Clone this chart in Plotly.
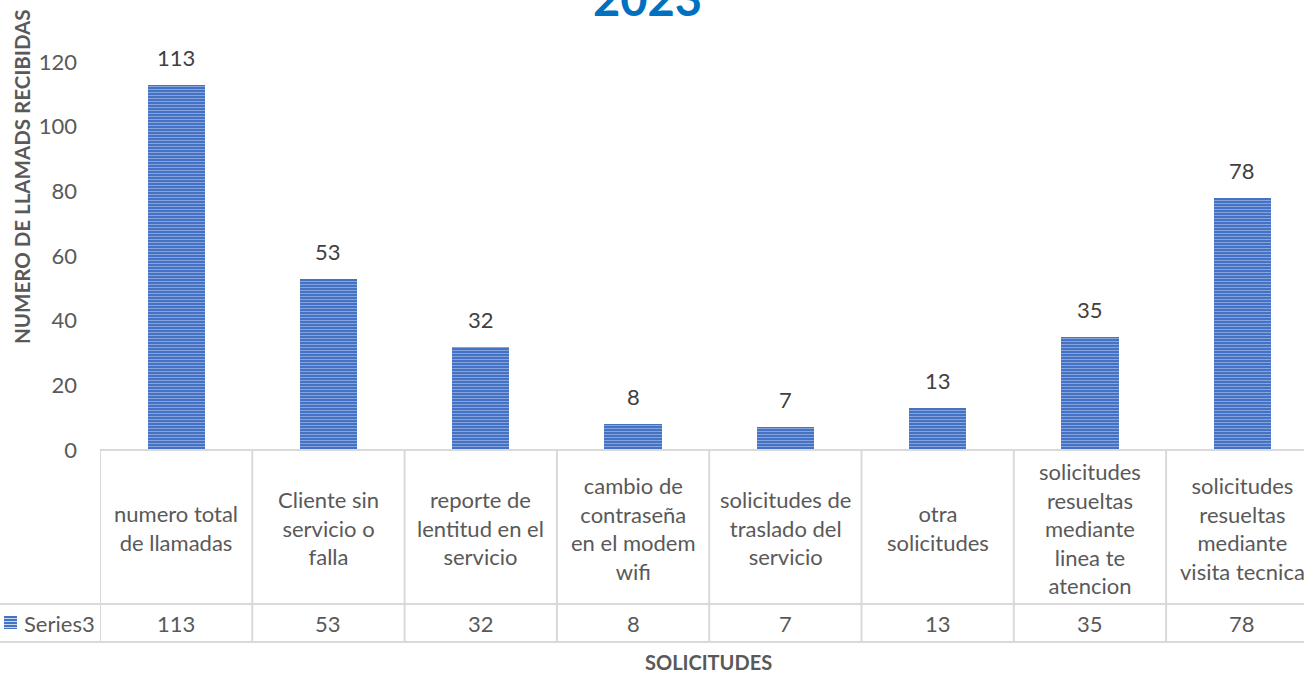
import plotly.graph_objects as go

categories = [
    "numero total<br>de llamadas",
    "Cliente sin<br>servicio o<br>falla",
    "reporte de<br>lentitud en el<br>servicio",
    "cambio de<br>contraseña<br>en el modem<br>wifi",
    "solicitudes de<br>traslado del<br>servicio",
    "otra<br>solicitudes",
    "solicitudes<br>resueltas<br>mediante<br>linea te<br>atencion",
    "solicitudes<br>resueltas<br>mediante<br>visita tecnica",
]
values = [113, 53, 32, 8, 7, 13, 35, 78]
series_name = "Series3"
title_text = "2023"
y_title = "NUMERO DE LLAMADS RECIBIDAS"
x_title = "SOLICITUDES"
y_ticks = [0, 20, 40, 60, 80, 100, 120]

W, H = 1304, 674
PLOT_LEFT, PLOT_TOP, PLOT_BOTTOM = 100, 40, 450
L, T, B = PLOT_LEFT, PLOT_TOP, H - PLOT_BOTTOM
plot_h = PLOT_BOTTOM - PLOT_TOP
plot_w = W - PLOT_LEFT
cat_px = 152.3
px_per_unit = (450 - 62) / 120.0

FONT = "Lato"
GRAY = "#595959"
LINE = "#D9D9D9"
BLUE = "#4472C4"
LIGHT = "#C9D7F0"

def py(p):
    return (PLOT_BOTTOM - p) / plot_h

def px(p):
    return (p - PLOT_LEFT) / plot_w

n = len(values)
xs = list(range(n))

fig = go.Figure()
fig.add_trace(go.Bar(
    x=xs, y=values, name=series_name, width=0.375,
    marker=dict(color=BLUE, line=dict(width=0),
                pattern=dict(shape="-", fgcolor=LIGHT, bgcolor=BLUE,
                             size=3, solidity=0.33)),
    showlegend=False, hoverinfo="skip",
))

annotations = []
for x, v in zip(xs, values):
    annotations.append(dict(x=x, y=v, xref="x", yref="y", text=str(v), showarrow=False,
                            yanchor="bottom", yshift=12,
                            font=dict(family=FONT, size=22, color="#404040")))
for x, c, v in zip(xs, categories, values):
    annotations.append(dict(x=x, y=py(528), xref="x", yref="paper", text=c, showarrow=False,
                            yanchor="middle", xanchor="center",
                            font=dict(family=FONT, size=22, color=GRAY)))
    annotations.append(dict(x=x, y=py(623), xref="x", yref="paper", text=str(v), showarrow=False,
                            yanchor="middle", xanchor="center",
                            font=dict(family=FONT, size=22, color=GRAY)))
annotations.append(dict(x=px(22), y=py(623), xref="paper", yref="paper", text=series_name,
                        showarrow=False, xanchor="left", yanchor="middle",
                        font=dict(family=FONT, size=22, color=GRAY)))
annotations.append(dict(x=px(22), y=py(177), xref="paper", yref="paper", text="<b>" + y_title + "</b>",
                        showarrow=False, textangle=-90, xanchor="center", yanchor="middle",
                        font=dict(family=FONT, size=20.5, color=GRAY)))
annotations.append(dict(x=px(708), y=py(662), xref="paper", yref="paper", text="<b>" + x_title + "</b>",
                        showarrow=False, xanchor="center", yanchor="middle",
                        font=dict(family=FONT, size=20, color=GRAY)))
annotations.append(dict(x=px(647), y=py(-2), xref="paper", yref="paper", text="<b>" + title_text + "</b>",
                        showarrow=False, xanchor="center", yanchor="middle",
                        font=dict(family=FONT, size=47, color="#0070C0")))

shapes = []
shapes.append(dict(type="line", xref="paper", yref="paper", x0=0, x1=1, y0=0, y1=0,
                   line=dict(color=LINE, width=2)))
for p in (604, 642):
    shapes.append(dict(type="line", xref="paper", yref="paper", x0=px(0), x1=1, y0=py(p), y1=py(p),
                       line=dict(color=LINE, width=2)))
for k in range(n + 1):
    shapes.append(dict(type="line", xref="x", yref="paper", x0=k - 0.5, x1=k - 0.5,
                       y0=0, y1=py(642), line=dict(color=LINE, width=2)))
shapes.append(dict(type="rect", xref="paper", yref="paper", x0=px(4), x1=px(17),
                   y0=py(629), y1=py(616), fillcolor=BLUE, line=dict(width=0)))
for p in (618.5, 621.5, 624.5, 627.5):
    shapes.append(dict(type="line", xref="paper", yref="paper", x0=px(4), x1=px(17),
                       y0=py(p), y1=py(p), line=dict(color=LIGHT, width=1)))

fig.update_layout(
    width=W, height=H,
    margin=dict(l=L, r=0, t=T, b=B, pad=0),
    paper_bgcolor="white", plot_bgcolor="white",
    annotations=annotations, shapes=shapes,
    xaxis=dict(range=[-0.5, -0.5 + plot_w / cat_px], showticklabels=False, showgrid=False,
               zeroline=False, showline=False, ticks=""),
    yaxis=dict(range=[0, plot_h / px_per_unit], tickvals=y_ticks, showgrid=False,
               zeroline=False, showline=False, ticks="", ticklabelstandoff=22,
               tickfont=dict(family=FONT, size=22, color=GRAY)),
    bargap=0,
    font=dict(family=FONT),
)

fig.write_html("out.html", config={"displayModeBar": False},
               post_script="document.body.style.margin='0';document.body.style.overflow='hidden';")
